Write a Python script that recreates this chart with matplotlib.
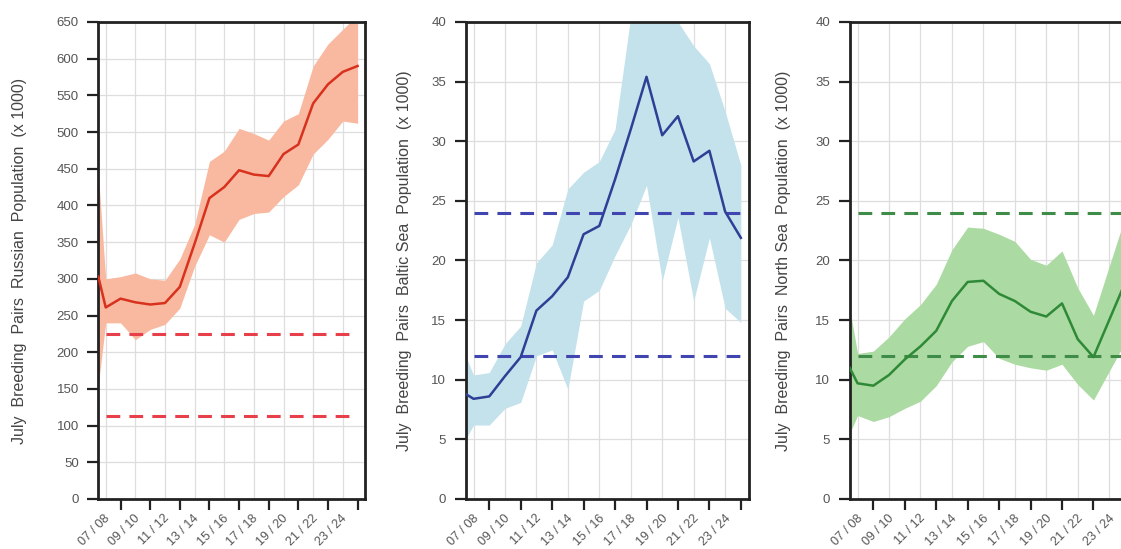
import numpy as np
import matplotlib
matplotlib.use("Agg")
import matplotlib.pyplot as plt
from matplotlib.transforms import ScaledTranslation

plt.rcParams["font.family"] = ["Liberation Sans", "DejaVu Sans"]

# seasons 06/07 .. 23/24, plus an extra starting point half a season earlier
seasons = ["06 / 07", "07 / 08", "08 / 09", "09 / 10", "10 / 11", "11 / 12",
           "12 / 13", "13 / 14", "14 / 15", "15 / 16", "16 / 17", "17 / 18",
           "18 / 19", "19 / 20", "20 / 21", "21 / 22", "22 / 23", "23 / 24"]
x_points = [-0.5] + list(range(len(seasons)))

russian_mid = [303, 261, 273, 268, 265, 267, 289, 348, 410, 425, 448, 442,
               440, 470, 483, 539, 565, 582, 590]
russian_low = [155, 240, 240, 217, 231, 238, 260, 317, 360, 350, 381, 389,
               391, 412, 428, 470, 490, 515, 512]
russian_high = [445, 300, 303, 308, 300, 298, 327, 374, 460, 474, 505, 498,
                489, 515, 525, 590, 620, 640, 660]
russian_limits = [225, 113]

baltic_mid = [8.8, 8.4, 8.6, 10.3, 11.9, 15.8, 17.0, 18.6, 22.2, 22.9, 26.8,
              31.0, 35.4, 30.5, 32.1, 28.3, 29.2, 24.1, 21.9]
baltic_low = [5.0, 6.2, 6.2, 7.6, 8.1, 12.0, 12.5, 9.2, 16.6, 17.5, 20.4,
              23.0, 26.3, 18.3, 23.6, 16.6, 21.9, 16.0, 14.8]
baltic_high = [12.0, 10.4, 10.6, 13.0, 14.5, 19.8, 21.3, 26.0, 27.4, 28.3,
               31.0, 40.5, 45.0, 43.0, 40.0, 38.0, 36.5, 32.5, 28.0]
baltic_limits = [24, 12]

north_mid = [11.0, 9.7, 9.5, 10.4, 11.7, 12.8, 14.1, 16.6, 18.2, 18.3, 17.2,
             16.6, 15.7, 15.3, 16.4, 13.4, 11.9, 15.0, 18.1]
north_low = [5.5, 7.0, 6.5, 6.9, 7.6, 8.2, 9.5, 11.5, 12.8, 13.2, 11.8, 11.3,
             11.0, 10.8, 11.3, 9.6, 8.3, 10.7, 13.1]
north_high = [16.0, 12.2, 12.4, 13.6, 15.1, 16.3, 18.0, 20.9, 22.8, 22.7, 22.2,
              21.6, 20.1, 19.6, 20.8, 17.7, 15.4, 19.5, 23.6]
north_limits = [24, 12]


def panel(ax, mid, low, high, limits, ymax, ystep, line_c, band_c, dash_c, label, label_x):
    ax.fill_between(x_points, low, high, color=band_c, lw=0, zorder=2)
    ax.plot(x_points, mid, color=line_c, lw=1.8, zorder=4)
    for lim in limits:
        ax.hlines(lim, 0, len(seasons) - 1, colors=dash_c, lw=2.2,
                  linestyles=(0, (4.5, 3)), zorder=3)

    ax.set_xlim(-0.5, len(seasons) - 0.5)
    ax.set_ylim(0, ymax)
    ax.set_yticks(np.arange(0, ymax + 1, ystep))
    tick_idx = list(range(1, len(seasons), 2))
    ax.set_xticks(tick_idx)
    ax.set_xticklabels([seasons[i] for i in tick_idx], rotation=45, ha="right",
                       va="top", fontsize=9, color="#555555")
    ax.set_xticks(range(len(seasons)), minor=True)
    ax.tick_params(axis="x", which="minor", length=0)
    ax.tick_params(axis="both", which="major", direction="out", length=8,
                   width=1.6, color="#222222")
    ax.tick_params(axis="y", labelsize=9.5, labelcolor="#555555", pad=6)
    ax.tick_params(axis="x", pad=1.5)
    offset = ScaledTranslation(-8 / 100, 0, ax.figure.dpi_scale_trans)
    for t in ax.get_xticklabels():
        t.set_transform(t.get_transform() + offset)

    ax.grid(True, which="major", axis="y", color="#dedede", lw=0.9, zorder=0)
    ax.grid(True, which="minor", axis="x", color="#dedede", lw=0.9, zorder=0)
    ax.set_axisbelow(True)
    for s in ax.spines.values():
        s.set_linewidth(2.0)
        s.set_color("#222222")

    ax.set_ylabel(label, fontsize=11.5, color="#444444")
    ax.yaxis.set_label_coords(label_x, 0.5)


fig = plt.figure(figsize=(11.21, 5.49), dpi=100)
ax1 = fig.add_axes([0.0877, 0.0911, 0.2379, 0.8689])
ax2 = fig.add_axes([0.4154, 0.0911, 0.2525, 0.8689])
ax3 = fig.add_axes([0.7580, 0.0911, 0.2525, 0.8689])

panel(ax1, russian_mid, russian_low, russian_high, russian_limits, 650, 50,
      "#d8321f", "#f9b9a0", "#e8404a",
      "July  Breeding  Pairs  Russian  Population  (x 1000)", -0.269)
panel(ax2, baltic_mid, baltic_low, baltic_high, baltic_limits, 40, 5,
      "#2e3f96", "#c3e2eb", "#4145b0",
      "July  Breeding  Pairs  Baltic Sea  Population  (x 1000)", -0.191)
panel(ax3, north_mid, north_low, north_high, north_limits, 40, 5,
      "#2f8a37", "#acdaa3", "#3f8c48",
      "July  Breeding  Pairs  North Sea  Population  (x 1000)", -0.206)

fig.savefig("out.png", dpi=100)
